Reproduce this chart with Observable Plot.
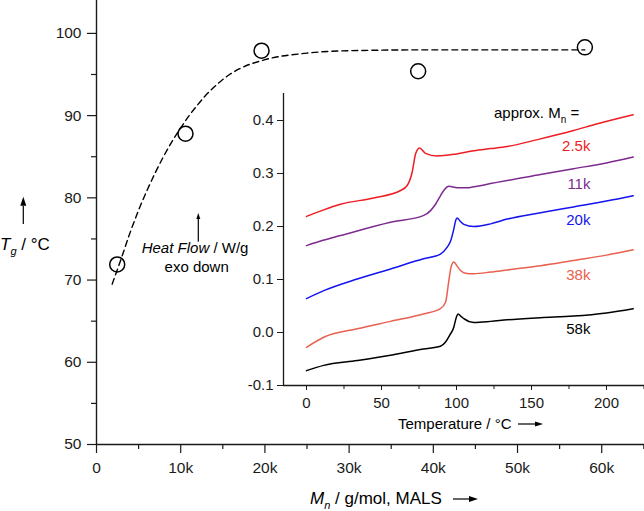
<!DOCTYPE html>
<html><head><meta charset="utf-8">
<script src="https://cdn.jsdelivr.net/npm/d3@7"></script>
<script src="https://cdn.jsdelivr.net/npm/@observablehq/plot@0.6"></script>
<style>
body{margin:0;background:#fff;}
#wrap{position:relative;width:644px;height:511px;overflow:hidden;}
#wrap svg{position:absolute;}
</style></head><body><div id="wrap"></div>
<script>
// ---- Main chart data: Tg vs Mn ----
const mnValues = [2460, 10570, 19600, 38200, 58000];
const tgValues = [71.9, 87.8, 97.9, 95.4, 98.3];
const fitMn = [1860, 3000, 4000, 5000, 6000, 7000, 8000, 9000, 10000, 11000, 12000, 13000, 14000, 15000, 17000, 20000, 25000, 30000, 40000, 50000, 58000];
const fitTg = [69.5, 72.8, 75.8, 78.5, 80.9, 83.1, 85.1, 86.9, 88.5, 90.0, 91.3, 92.5, 93.5, 94.4, 95.7, 96.8, 97.6, 97.9, 98.0, 98.0, 98.0];
const mnTicks = [0, 10000, 20000, 30000, 40000, 50000, 60000];
const mnMinor = [5000, 15000, 25000, 35000, 45000, 55000, 65000];
const tgTicks = [50, 60, 70, 80, 90, 100];
const tgMinor = [55, 65, 75, 85, 95];

// ---- Inset data: DSC curves ----
const seriesNames = ["2.5k", "11k", "20k", "38k", "58k"];
const seriesColors = ["#ee1d23", "#7d2a8e", "#1414ee", "#e8604f", "#000000"];
const tempRed = [0, 11, 22.7, 44.9, 62.7, 67, 70.4, 72.7, 74, 75.3, 79.3, 87, 100, 111.6, 122.7, 133.8, 154, 178, 194, 217.8];
const hfRed   = [0.219, 0.231, 0.242, 0.254, 0.268, 0.277, 0.302, 0.337, 0.345, 0.348, 0.338, 0.333, 0.337, 0.343, 0.347, 0.351, 0.364, 0.381, 0.394, 0.411];
const tempPurple = [0, 11, 22.7, 56, 78.2, 82.7, 86, 89.3, 92, 94.9, 100.4, 107, 111.5, 122.7, 133.8, 156, 178, 200, 217.8];
const hfPurple   = [0.164, 0.174, 0.183, 0.208, 0.221, 0.230, 0.242, 0.258, 0.270, 0.276, 0.273, 0.273, 0.275, 0.281, 0.287, 0.298, 0.309, 0.320, 0.331];
const tempBlue = [0, 11.5, 33.8, 56, 78, 89.3, 93.8, 96, 98.2, 99.5, 100.4, 102.5, 104.9, 111.5, 122.7, 133.8, 156, 178, 200, 217.8];
const hfBlue   = [0.064, 0.079, 0.101, 0.120, 0.139, 0.148, 0.161, 0.172, 0.195, 0.212, 0.216, 0.210, 0.204, 0.200, 0.205, 0.214, 0.226, 0.237, 0.248, 0.258];
const tempSalmon = [0, 11.5, 33.8, 56, 78, 89.3, 92.7, 94.9, 96.5, 98.2, 100, 102.7, 106, 111.5, 122.7, 133.8, 156, 178, 200, 217.8];
const hfSalmon   = [-0.028, -0.009, 0.007, 0.021, 0.035, 0.045, 0.057, 0.098, 0.125, 0.133, 0.127, 0.117, 0.112, 0.111, 0.114, 0.118, 0.126, 0.136, 0.146, 0.156];
const tempBlack = [0, 11.5, 33.8, 56, 78, 89.3, 92.7, 95.5, 98.2, 99.8, 101.1, 102.8, 104.9, 111.5, 122.7, 133.8, 156, 178, 200, 217.8];
const hfBlack   = [-0.072, -0.062, -0.053, -0.043, -0.031, -0.026, -0.018, -0.005, 0.010, 0.028, 0.035, 0.031, 0.026, 0.019, 0.021, 0.024, 0.028, 0.031, 0.037, 0.045];
const labelHF = [0.352, 0.279, 0.212, 0.109, 0.006];
const tempTicks = [0, 50, 100, 150, 200];
const tempMinor = [25, 75, 125, 175, 225];
const hfTicks = [-0.1, 0, 0.1, 0.2, 0.3, 0.4];

// ---- build tables ----
const points = mnValues.map((m, i) => ({mn: m, tg: tgValues[i]}));
const fit = fitMn.map((m, i) => ({mn: m, tg: fitTg[i]}));
const temps = [tempRed, tempPurple, tempBlue, tempSalmon, tempBlack];
const hfs = [hfRed, hfPurple, hfBlue, hfSalmon, hfBlack];
const curves = seriesNames.flatMap((name, s) => temps[s].map((t, i) => ({name, t, hf: hfs[s][i]})));
const labels = seriesNames.map((name, i) => ({name, hf: labelHF[i]}));

const font = "'Liberation Sans', Arial, Helvetica, sans-serif";
const ink = "#1a1a1a";
const wrap = document.getElementById("wrap");

const main = Plot.plot({
  width: 644, height: 511,
  marginLeft: 96, marginRight: 0, marginTop: 0, marginBottom: 67,
  style: {background: "transparent", fontFamily: font, fontSize: "15.5px", color: ink, overflow: "visible"},
  x: {domain: [0, 65080], label: null},
  y: {domain: [50, 104], label: null},
  marks: [
    Plot.axisX({ticks: mnMinor, tickSize: 5, tickFormat: () => "", label: null, strokeWidth: 1.2}),
    Plot.axisX({ticks: mnTicks, tickSize: 9, tickPadding: 8.5, tickFormat: d => d === 0 ? "0" : (d / 1000) + "k", label: null, strokeWidth: 1.2}),
    Plot.axisY({ticks: tgMinor, tickSize: 5, tickFormat: () => "", label: null, strokeWidth: 1.2}),
    Plot.axisY({ticks: tgTicks, tickSize: 9, tickPadding: 6, tickFormat: d => String(d), label: null, strokeWidth: 1.2}),
    Plot.ruleY([50], {stroke: ink, strokeWidth: 1.4}),
    Plot.ruleX([0], {stroke: ink, strokeWidth: 1.4}),
    Plot.line(fit, {x: "mn", y: "tg", stroke: "black", strokeWidth: 1.4, strokeDasharray: "6,4", curve: "monotone-x"}),
    Plot.dot(points, {x: "mn", y: "tg", r: 7.5, stroke: "black", strokeWidth: 1.5, fill: "none"})
  ]
});
main.style.left = "0px"; main.style.top = "0px";
wrap.appendChild(main);

const inset = Plot.plot({
  width: 414, height: 360,
  marginLeft: 53, marginRight: 0, marginTop: 13, marginBottom: 55,
  style: {background: "transparent", fontFamily: font, fontSize: "15px", color: ink, overflow: "visible"},
  x: {domain: [-15.33, 225.33], label: null},
  y: {domain: [-0.1, 0.451], label: null},
  color: {domain: seriesNames, range: seriesColors},
  marks: [
    Plot.ruleX([-15.33], {stroke: ink, strokeWidth: 1.3}),
    Plot.ruleY([-0.1], {stroke: ink, strokeWidth: 1.3}),
    Plot.axisX({ticks: tempMinor, tickSize: 4, tickFormat: () => "", label: null}),
    Plot.axisX({ticks: tempTicks, tickSize: 5, tickPadding: 6.5, tickFormat: d => String(d), label: null}),
    Plot.axisY({ticks: hfTicks, tickSize: 6, tickPadding: 4, tickFormat: d => d.toFixed(1), label: null}),
    Plot.line(curves, {x: "t", y: "hf", z: "name", stroke: "name", strokeWidth: 1.5, curve: "monotone-x"}),
    Plot.text(labels, {x: 189.3, y: "hf", text: "name", fill: "name", textAnchor: "end", fontSize: 15})
  ]
});
inset.style.left = "230px"; inset.style.top = "80px";
wrap.appendChild(inset);

// ---- annotations (real text) ----
const svg = d3.select(main);
const g = svg.append("g").attr("font-family", font).attr("fill", "black").attr("text-anchor", "start");

function arrow(x1, y1, x2, y2, headLen, headW) {
  const ang = Math.atan2(y2 - y1, x2 - x1);
  const bx = x2 - headLen * Math.cos(ang), by = y2 - headLen * Math.sin(ang);
  g.append("line").attr("x1", x1).attr("y1", y1).attr("x2", bx).attr("y2", by)
    .attr("stroke", "black").attr("stroke-width", 1.2);
  const px = -Math.sin(ang) * headW / 2, py = Math.cos(ang) * headW / 2;
  g.append("polygon").attr("points", `${x2},${y2} ${bx + px},${by + py} ${bx - px},${by - py}`).attr("fill", "black");
}

// Tg / °C
const tg = g.append("text").attr("x", 0).attr("y", 250).attr("font-size", 17);
tg.append("tspan").attr("font-style", "italic").text("T");
tg.append("tspan").attr("font-style", "italic").attr("font-size", 11).attr("dy", 5).text("g");
tg.append("tspan").attr("dy", -5).text(" / °C");
arrow(23.3, 224, 23.3, 196.7, 9, 6);

// Mn / g/mol, MALS
const mn = g.append("text").attr("x", 310).attr("y", 504).attr("font-size", 17);
mn.append("tspan").attr("font-style", "italic").text("M");
mn.append("tspan").attr("font-style", "italic").attr("font-size", 11).attr("dy", 5).text("n");
mn.append("tspan").attr("dy", -5).text(" / g/mol, MALS");
arrow(453, 499, 478, 499, 9, 6);

// Heat Flow / W/g, exo down
const hf = g.append("text").attr("x", 141.7).attr("y", 252.7).attr("font-size", 15);
hf.append("tspan").attr("font-style", "italic").text("Heat Flow");
hf.append("tspan").text(" / W/g");
g.append("text").attr("x", 196.7).attr("y", 271.7).attr("font-size", 15).attr("text-anchor", "middle").text("exo down");
arrow(198.3, 241.7, 198.3, 213, 6, 4);

// Temperature / °C
g.append("text").attr("x", 398).attr("y", 429).attr("font-size", 15).text("Temperature / °C");
arrow(518, 424, 543, 424, 8, 5);

// approx. Mn =
const ap = g.append("text").attr("x", 494).attr("y", 118.3).attr("font-size", 15);
ap.append("tspan").text("approx. M");
ap.append("tspan").attr("font-size", 10).attr("dy", 5).text("n");
ap.append("tspan").attr("dy", -5).text(" =");
</script></body></html>
